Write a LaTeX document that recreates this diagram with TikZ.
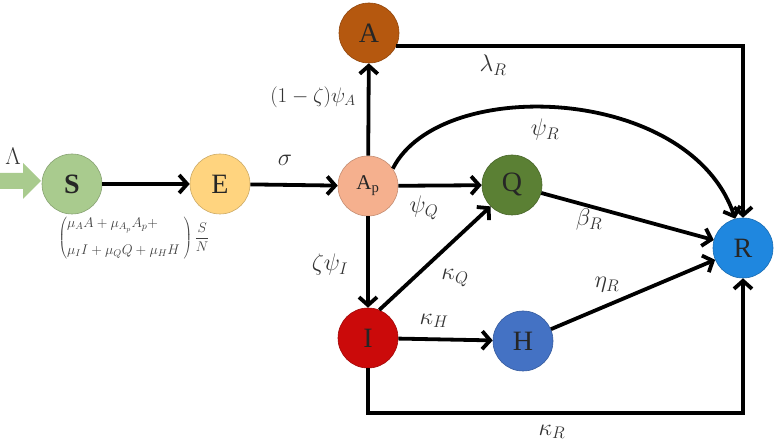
\RequirePackage{fix-cm}
\documentclass[tikz,border=0pt]{standalone}
\usepackage{fontspec}
\setmainfont{Liberation Serif}
\usetikzlibrary{arrows.meta,calc}
\definecolor{cS}{HTML}{A9CB8E}
\definecolor{cE}{HTML}{FFD47F}
\definecolor{cAp}{HTML}{F5B08E}
\definecolor{cA}{HTML}{B5580F}
\definecolor{cQ}{HTML}{5B8034}
\definecolor{cI}{HTML}{CB0A0A}
\definecolor{cH}{HTML}{4472C4}
\definecolor{cR}{HTML}{1F87DF}
\begin{document}
\begin{tikzpicture}[x=1pt,y=-1pt,
  comp/.style={circle, minimum size=60pt, inner sep=0pt, draw=#1!80!black, line width=0.6pt, fill=#1, text=black!85, font=\fontsize{28}{30}\selectfont},
  arr/.style={line width=3.8pt, -{Straight Barb[length=8pt,width=18pt]}},
  lab/.style={font=\fontsize{24}{28}\selectfont, text=black!80, inner sep=0pt}]
\useasboundingbox (0,0) rectangle (774,443);
% compartments
\node[comp=cS, font=\fontsize{28}{30}\selectfont\bfseries] (S) at (72,184) {S};
\node[comp=cE] (E) at (220,184) {E};
\node[comp=cAp, font=\fontsize{21}{24}\selectfont] (Ap) at (368,186) {A\textsubscript{p}};
\node[comp=cA] (A) at (369,33) {A};
\node[comp=cQ] (Q) at (512,185) {Q};
\node[comp=cI] (I) at (368,338) {I};
\node[comp=cH] (H) at (523,341) {H};
\node[comp=cR] (R) at (743,248) {R};
% inflow
\fill[cS] (0,173) -- (23,173) -- (23,163) -- (41,181) -- (23,199) -- (23,189) -- (0,189) -- cycle;
% connectors
\draw[arr] (S) -- (E);
\draw[arr] (E) -- (Ap);
\draw[arr] (Ap) -- (A);
\draw[arr] (Ap) -- (Q);
\draw[arr] (Ap) -- (I);
\draw[arr] (I.68) -- (Q.225);
\draw[arr] (I) -- (H);
\draw[arr] (Q) -- (R);
\draw[arr] (H) -- (R);
\draw[arr] (A.-25) -| (R.north);
\draw[arr] (Ap.35) .. controls (440,75) and (690,85) .. (R.105);
\coordinate (kr) at (743,413);
\draw[arr] (I.south) |- (kr) -- (R.south);
% labels
\node[lab] (lL) at (13,156) {$\Lambda$};
\node[lab] (lsig) at (285,160) {$\sigma$};
\node[lab, font=\fontsize{21}{24}\selectfont] (lA) at (313,97) {$(1-\zeta)\psi_A$};
\node[lab] (lQ) at (424,208) {$\psi_Q$};
\node[lab] (lI) at (330,265) {$\zeta\psi_I$};
\node[lab] (lkQ) at (455,278) {$\kappa_Q$};
\node[lab] (lkH) at (434,321) {$\kappa_H$};
\node[lab] (lbR) at (589,220) {$\beta_R$};
\node[lab] (leR) at (607,285) {$\eta_R$};
\node[lab] (lpR) at (545,130) {$\psi_R$};
\node[lab] (llR) at (493,65) {$\lambda_R$};
\node[lab] (lkR) at (552,432) {$\kappa_R$};
\node[font=\fontsize{14}{17}\selectfont, text=black!75, inner sep=0pt] (f) at (134,238)
  {$\left(\begin{array}{@{}l@{}}\mu_{A}A+\mu_{A_p}A_p+\\[10pt] \mu_{I}I+\mu_{Q}Q+\mu_{H}H\;\end{array}\right)\displaystyle\frac{S}{N}$};
\end{tikzpicture}
\end{document}
